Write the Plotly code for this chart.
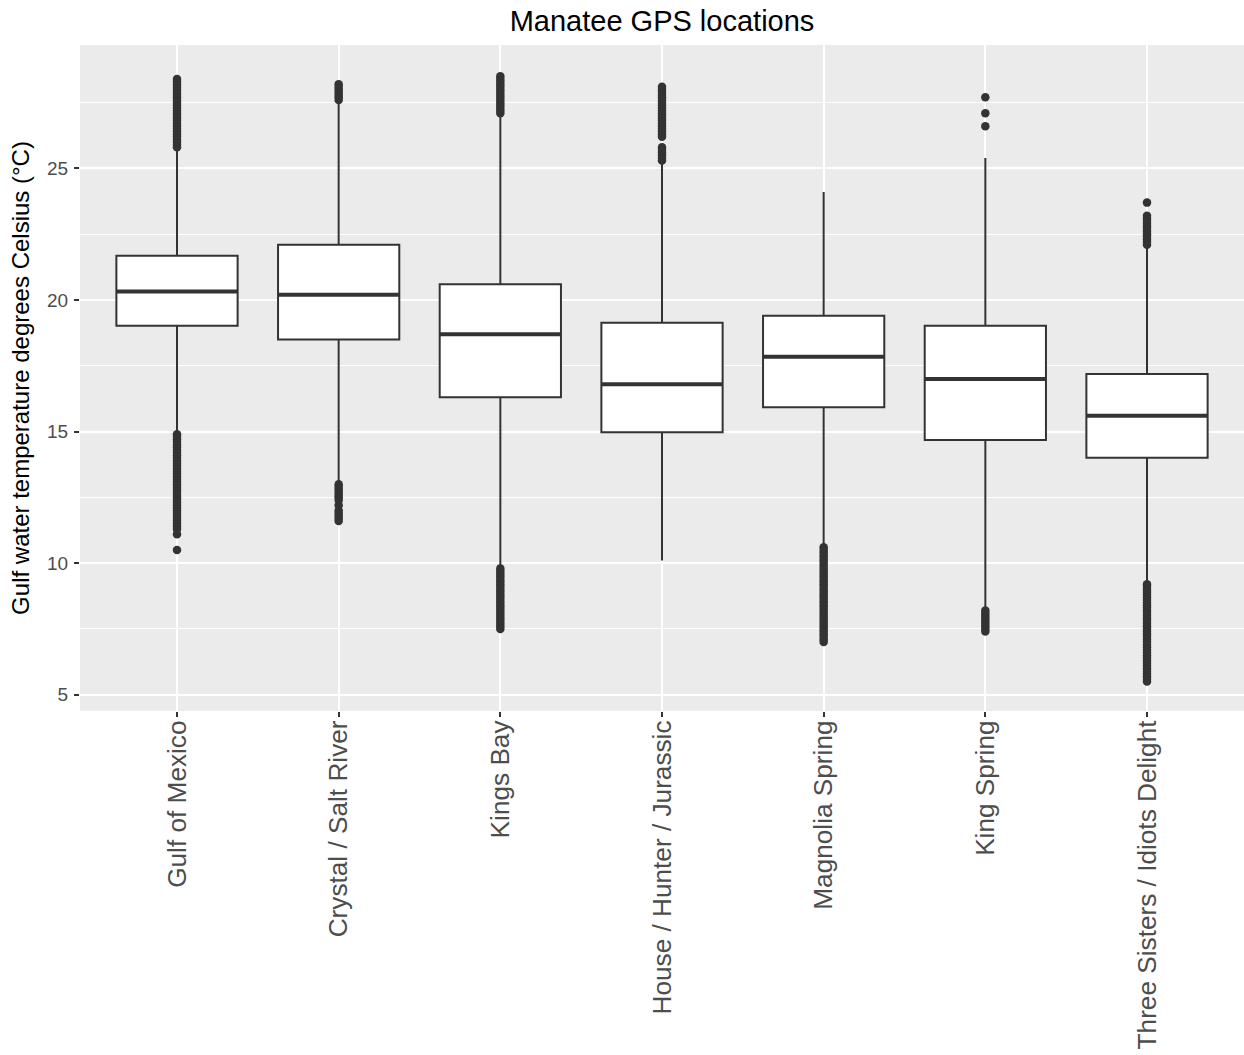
import plotly.graph_objects as go

# Manatee GPS locations: water temperature summary per site
sites = [
    "Gulf of Mexico",
    "Crystal / Salt River",
    "Kings Bay",
    "House / Hunter / Jurassic",
    "Magnolia Spring",
    "King Spring",
    "Three Sisters / Idiots Delight",
]

q1 = [19.02, 18.50, 16.30, 14.97, 15.92, 14.68, 14.00]
median = [20.32, 20.20, 18.70, 16.80, 17.84, 17.00, 15.60]
q3 = [21.68, 22.10, 20.60, 19.13, 19.40, 19.02, 17.19]
whisker_low = [15.0, 13.1, 9.9, 10.1, 10.7, 8.3, 9.3]
whisker_high = [25.7, 27.5, 27.0, 25.2, 24.1, 25.4, 22.0]

# Outlying readings for each site
gulf_outliers = [
    25.8, 25.9, 26.0, 26.1, 26.2, 26.3, 26.4, 26.5, 26.6, 26.7, 26.8, 26.9, 27.0,
    27.1, 27.2, 27.3, 27.4, 27.5, 27.6, 27.7, 27.8, 27.9, 28.0, 28.1, 28.2, 28.3, 28.4,
    14.9, 14.8, 14.7, 14.6, 14.5, 14.4, 14.3, 14.2, 14.1, 14.0, 13.9, 13.8, 13.7,
    13.6, 13.5, 13.4, 13.3, 13.2, 13.1, 13.0, 12.9, 12.8, 12.7, 12.6, 12.5, 12.4,
    12.3, 12.2, 12.1, 12.0, 11.9, 11.8, 11.7, 11.6, 11.5, 11.4, 11.3, 11.1, 10.5,
]
crystal_outliers = [
    27.6, 27.7, 27.8, 27.9, 28.0, 28.1, 28.2,
    13.0, 12.9, 12.8, 12.7, 12.6, 12.5, 12.4, 12.2, 12.0, 11.9, 11.8, 11.7, 11.6,
]
kings_bay_outliers = [
    27.1, 27.2, 27.3, 27.4, 27.5, 27.6, 27.7, 27.8, 27.9, 28.0, 28.1, 28.2, 28.3, 28.4, 28.5,
    9.8, 9.7, 9.6, 9.5, 9.4, 9.3, 9.2, 9.1, 9.0, 8.9, 8.8, 8.7, 8.6, 8.5, 8.4,
    8.3, 8.2, 8.1, 8.0, 7.9, 7.8, 7.7, 7.6, 7.5,
]
house_outliers = [
    25.3, 25.4, 25.5, 25.6, 25.7, 25.8,
    26.2, 26.3, 26.4, 26.5, 26.6, 26.7, 26.8, 26.9, 27.0, 27.1, 27.2, 27.3,
    27.4, 27.5, 27.6, 27.7, 27.8, 27.9, 28.0, 28.1,
]
magnolia_outliers = [
    10.6, 10.5, 10.4, 10.3, 10.2, 10.1, 10.0, 9.9, 9.8, 9.7, 9.6, 9.5, 9.4, 9.3,
    9.2, 9.1, 9.0, 8.9, 8.8, 8.7, 8.6, 8.5, 8.4, 8.3, 8.2, 8.1, 8.0, 7.9, 7.8,
    7.7, 7.6, 7.5, 7.4, 7.3, 7.2, 7.1, 7.0,
]
king_spring_outliers = [
    26.6, 27.1, 27.7,
    8.2, 8.1, 8.0, 7.9, 7.8, 7.7, 7.6, 7.5, 7.4,
]
three_sisters_outliers = [
    23.7, 23.2, 23.1, 23.0, 22.9, 22.8, 22.7, 22.6, 22.5, 22.4, 22.3, 22.2, 22.1,
    9.2, 9.1, 9.0, 8.9, 8.8, 8.7, 8.6, 8.5, 8.4, 8.3, 8.2, 8.1, 8.0, 7.9, 7.8,
    7.7, 7.6, 7.5, 7.4, 7.3, 7.2, 7.1, 7.0, 6.9, 6.8, 6.7, 6.6, 6.5, 6.4, 6.3,
    6.2, 6.1, 6.0, 5.9, 5.8, 5.7, 5.6, 5.5,
]
outliers = [
    gulf_outliers, crystal_outliers, kings_bay_outliers, house_outliers,
    magnolia_outliers, king_spring_outliers, three_sisters_outliers,
]

y_ticks = [5, 10, 15, 20, 25]

FONT = "Liberation Sans, Arial, sans-serif"
INK = "#333333"
BOX_WIDTH = 0.75

pos = list(range(len(sites)))

fig = go.Figure()

# Boxes and whiskers from the summary statistics
fig.add_trace(go.Box(
    x=pos, q1=q1, median=median, q3=q3,
    lowerfence=whisker_low, upperfence=whisker_high,
    width=BOX_WIDTH, whiskerwidth=0,
    fillcolor="white",
    line=dict(color=INK, width=2),
    boxpoints=False,
    hoverinfo="skip",
    showlegend=False,
))

# Heavier median bars
mx, my = [], []
for p, m in zip(pos, median):
    mx += [p - BOX_WIDTH / 2, p + BOX_WIDTH / 2, None]
    my += [m, m, None]
fig.add_trace(go.Scatter(
    x=mx, y=my, mode="lines",
    line=dict(color=INK, width=4),
    hoverinfo="skip", showlegend=False,
))

# Outlier points
ox, oy = [], []
for p, vals in zip(pos, outliers):
    ox += [p] * len(vals)
    oy += vals
fig.add_trace(go.Scatter(
    x=ox, y=oy, mode="markers",
    marker=dict(color=INK, size=8.5, line=dict(width=0)),
    hoverinfo="skip", showlegend=False,
))

fig.update_layout(
    width=1244, height=1055,
    margin=dict(l=80, r=0, t=45, b=344),
    paper_bgcolor="white",
    plot_bgcolor="#EBEBEB",
    font=dict(family=FONT, color="black"),
    title=dict(
        text="Manatee GPS locations",
        font=dict(family=FONT, size=29, color="black"),
        x=0.5, xref="paper", xanchor="center",
        y=1 - 21 / 1055, yref="container", yanchor="middle",
    ),
    xaxis=dict(
        range=[-0.6, len(sites) - 0.4],
        tickmode="array", tickvals=pos, ticktext=sites,
        tickangle=-90,
        tickfont=dict(family=FONT, size=26.2, color="#4D4D4D"),
        ticks="outside", ticklen=5, tickwidth=2, tickcolor=INK,
        showgrid=True, gridcolor="white", gridwidth=2,
        zeroline=False, showline=False,
        ticklabelstandoff=-7,
        automargin=False,
    ),
    yaxis=dict(
        range=[4.38, 29.69],
        tickmode="array", tickvals=y_ticks,
        tickfont=dict(family=FONT, size=19, color="#4D4D4D"),
        ticks="outside", ticklen=5, tickwidth=2, tickcolor=INK,
        showgrid=True, gridcolor="white", gridwidth=2,
        minor=dict(tickmode="array", tickvals=[7.5, 12.5, 17.5, 22.5, 27.5],
                   showgrid=True, gridcolor="white", gridwidth=1, ticklen=0),
        zeroline=False, showline=False,
        ticklabelstandoff=2,
        automargin=False,
        title=dict(
            text="Gulf water temperature degrees Celsius (°C)",
            font=dict(family=FONT, size=24, color="black"),
            standoff=10,
        ),
    ),
)

fig.write_html("out.html")
